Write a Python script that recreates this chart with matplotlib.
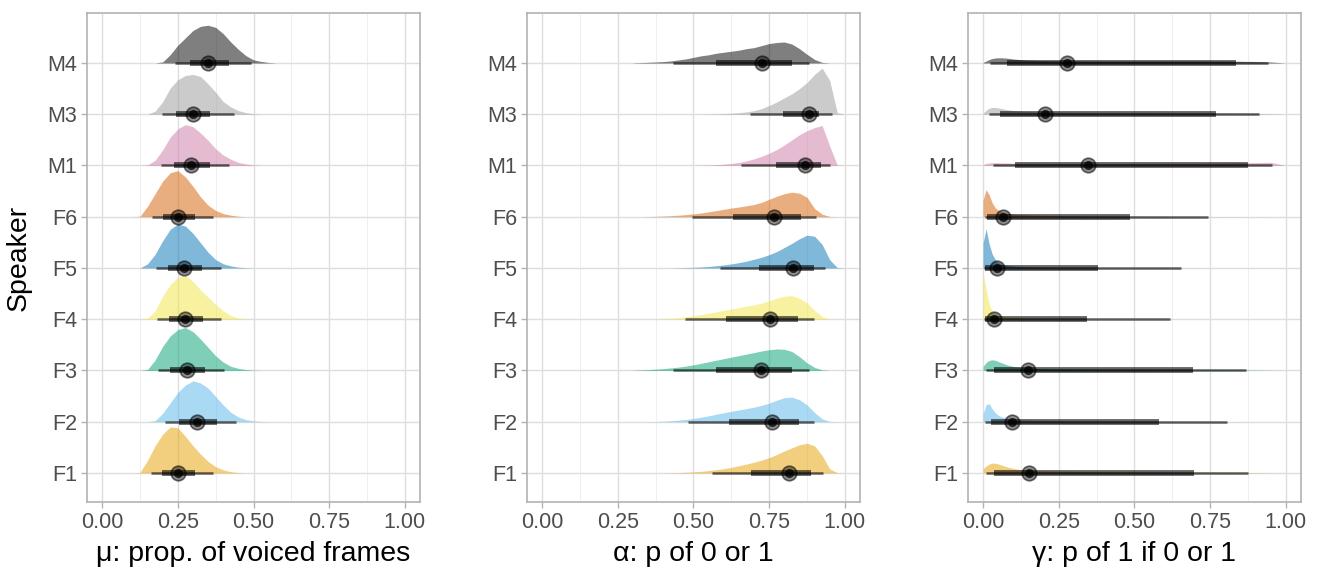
import matplotlib.pyplot as plt
import numpy as np
from matplotlib.ticker import MultipleLocator

plt.rcParams['font.family'] = ['Liberation Sans', 'DejaVu Sans']

speakers = ['F1', 'F2', 'F3', 'F4', 'F5', 'F6', 'M1', 'M3', 'M4']
colors = ['#E69F00', '#56B4E9', '#009E73', '#F0E442', '#0072B2',
          '#D55E00', '#CC79A7', '#999999', '#000000']

# posterior density estimates (relative height) on a fixed grid, per speaker
mu_grid = [0.100, 0.125, 0.150, 0.175, 0.200, 0.225, 0.250, 0.275, 0.300, 0.325, 0.350,
           0.375, 0.400, 0.425, 0.450, 0.475, 0.500, 0.525, 0.550, 0.575, 0.600]
mu_dens = {
    'F1': [0, 0.5, 12, 26, 37, 44, 43, 35, 26, 18, 11, 6, 3, 1.2, 0.4, 0, 0, 0, 0, 0, 0],
    'F2': [0, 0, 0, 1, 8, 18, 28, 35, 39, 37, 32, 24, 16, 9, 4.5, 2, 0.8, 0.3, 0, 0, 0],
    'F3': [0, 0, 1, 10, 23, 33, 39, 41, 37, 30, 22, 14, 8, 4, 2, 0.8, 0.3, 0, 0, 0, 0],
    'F4': [0, 0, 1, 8, 22, 33, 40, 42, 36, 28, 21, 14, 8, 3.5, 1.2, 0.4, 0, 0, 0, 0, 0],
    'F5': [0, 0, 4, 13, 26, 37, 42, 40, 33, 24, 15, 8, 4, 2, 0.7, 0.3, 0, 0, 0, 0, 0],
    'F6': [0, 0.5, 10, 22, 34, 42, 44, 38, 29, 19, 11, 6, 3, 1.5, 0.5, 0, 0, 0, 0, 0, 0],
    'M1': [0, 0, 0.5, 5, 15, 27, 35, 39, 37, 31, 24, 16, 10, 6, 3, 1.5, 0.5, 0, 0, 0, 0],
    'M3': [0, 0, 0, 3, 12, 25, 33, 37, 38, 36, 29, 21, 12, 7, 3.5, 1.5, 0.5, 0, 0, 0, 0],
    'M4': [0, 0, 0, 0, 1, 8, 17, 24, 31, 35, 36, 34, 28, 20, 13, 7, 3, 1.5, 0.5, 0, 0],
}
mu_med = [0.251, 0.312, 0.279, 0.275, 0.272, 0.252, 0.293, 0.301, 0.351]
mu_lo66 = [0.199, 0.255, 0.224, 0.222, 0.217, 0.202, 0.236, 0.244, 0.289]
mu_hi66 = [0.307, 0.378, 0.340, 0.334, 0.331, 0.307, 0.355, 0.356, 0.419]
mu_lo95 = [0.161, 0.209, 0.185, 0.180, 0.178, 0.164, 0.194, 0.199, 0.241]
mu_hi95 = [0.367, 0.441, 0.403, 0.393, 0.393, 0.367, 0.420, 0.435, 0.491]

alpha_grid = [0.300, 0.325, 0.350, 0.375, 0.400, 0.425, 0.450, 0.475, 0.500, 0.525,
              0.550, 0.575, 0.600, 0.625, 0.650, 0.675, 0.700, 0.725, 0.750, 0.775,
              0.800, 0.825, 0.850, 0.875, 0.900, 0.925, 0.950, 0.975, 1.000]
alpha_dens = {
    'F1': [0, 0, 0, 0, 0, 0.2, 0.4, 0.7, 1.1, 1.6, 2.3, 3.2, 4.2, 5.5, 7,
           8.7, 10.5, 12.5, 15, 18, 21.5, 24.5, 27.5, 29, 26.5, 17, 4, 0.3, 0],
    'F2': [0, 0, 0, 0.2, 0.5, 0.9, 1.5, 2.2, 3.2, 4.4, 5.8, 7.3, 8.8, 10.2, 11.5,
           12.8, 14.2, 16, 18.2, 21, 23.5, 24, 21.5, 16.5, 9, 2.8, 0.3, 0, 0],
    'F3': [0.2, 0.5, 0.8, 1.3, 1.8, 2.5, 3.3, 4.3, 5.5, 7, 8.5, 10, 11.5, 13, 14.5,
           16, 17.5, 19, 20.3, 21, 20.7, 18.5, 13.5, 7.5, 3, 0.6, 0, 0, 0],
    'F4': [0, 0, 0, 0.2, 0.5, 0.9, 1.5, 2.3, 3.3, 4.5, 5.8, 7.2, 8.6, 10, 11.3,
           12.7, 14, 15.8, 18, 20.5, 22.5, 23, 20.5, 16, 8.5, 2.5, 0.3, 0, 0],
    'F5': [0, 0, 0, 0, 0, 0, 0.2, 0.4, 0.7, 1, 1.5, 2.2, 3, 4, 5.2,
           6.7, 8.5, 10.5, 13, 16, 20, 24, 28.5, 32, 31, 23, 8, 0.5, 0],
    'F6': [0, 0, 0.2, 0.4, 0.7, 1.0, 1.5, 2.1, 2.8, 3.7, 4.8, 6, 7.3, 8.5, 9.5,
           10.7, 12, 14, 17, 20, 22.5, 24, 23, 19, 8, 2.5, 0.3, 0, 0],
    'M1': [0, 0, 0, 0, 0, 0, 0, 0, 0, 0.2, 0.4, 0.7, 1.2, 2, 3,
           4.5, 6.5, 9, 12, 15.5, 20, 25, 30, 34, 37, 39, 19, 0.5, 0],
    'M3': [0, 0, 0, 0, 0, 0, 0, 0, 0, 0, 0.2, 0.4, 0.6, 1, 1.5,
           2.3, 3.5, 5.5, 8.5, 12, 16, 20, 25, 31, 39, 45, 33, 1.5, 0],
    'M4': [0.2, 0.4, 0.7, 1.0, 1.4, 2, 3, 4, 5.5, 7, 8, 9.5, 10.5, 11.5, 12.5,
           14, 15, 17, 19, 20, 20.5, 18.5, 14, 8.5, 3.5, 0.6, 0, 0, 0],
}
alpha_med = [0.815, 0.760, 0.724, 0.753, 0.830, 0.767, 0.869, 0.883, 0.727]
alpha_lo66 = [0.691, 0.617, 0.573, 0.608, 0.716, 0.630, 0.773, 0.795, 0.575]
alpha_hi66 = [0.888, 0.850, 0.825, 0.844, 0.897, 0.855, 0.921, 0.916, 0.825]
alpha_lo95 = [0.562, 0.482, 0.432, 0.471, 0.589, 0.496, 0.658, 0.688, 0.432]
alpha_hi95 = [0.927, 0.899, 0.883, 0.897, 0.935, 0.905, 0.951, 0.957, 0.883]

gamma_grid = [0, 0.01, 0.02, 0.03, 0.04, 0.05, 0.06, 0.08, 0.10, 0.125, 0.15,
              0.2, 0.25, 0.3, 0.4, 0.5, 0.6, 0.7, 0.8, 0.9, 0.95, 1.0]
gamma_dens = {
    'F1': [4, 7, 9, 9.8, 9.8, 9, 8, 6, 4.5, 3.3, 2.7, 2, 1.7, 1.5, 1.2, 1, 0.9, 0.8, 0.6, 0.35, 0.1, 0],
    'F2': [8, 17, 18, 13, 9, 6.5, 5, 3.3, 2.4, 1.8, 1.5, 1.1, 0.9, 0.75, 0.55, 0.4, 0.3, 0.2, 0.1, 0.03, 0, 0],
    'F3': [4, 8, 10, 10.7, 10.2, 9, 7.8, 5.5, 4, 3, 2.5, 1.9, 1.6, 1.4, 1.1, 0.9, 0.8, 0.7, 0.6, 0.35, 0.1, 0],
    'F4': [46, 30, 15, 8, 5, 3.5, 2.7, 1.8, 1.3, 1, 0.8, 0.55, 0.4, 0.3, 0.2, 0.12, 0.07, 0.04, 0.01, 0, 0, 0],
    'F5': [25, 39, 24, 14, 8.5, 5.5, 4, 2.6, 1.9, 1.4, 1.1, 0.7, 0.5, 0.4, 0.25, 0.15, 0.08, 0.04, 0.01, 0, 0, 0],
    'F6': [17, 27, 22, 14, 9, 6.5, 5, 3.5, 2.7, 2.2, 1.8, 1.4, 1.1, 0.9, 0.6, 0.45, 0.3, 0.2, 0.12, 0.05, 0.02, 0],
    'M1': [0.5, 2, 2.6, 2.8, 2.8, 2.7, 2.6, 2.5, 2.4, 2.3, 2.2, 2.1, 2.1, 2.1, 2.1, 2.1, 2.2, 2.3, 2.5, 2.9, 3.2, 0],
    'M3': [1, 4, 6, 6.8, 6.8, 6.3, 5.7, 4.6, 3.7, 3, 2.6, 2.2, 2, 1.9, 1.7, 1.6, 1.5, 1.3, 1.1, 0.8, 0.4, 0],
    'M4': [0.5, 2, 3.5, 4.5, 5, 5.2, 5.2, 4.8, 4, 3.3, 2.8, 2.4, 2.2, 2.1, 2, 2, 2, 2, 1.9, 1.5, 1.0, 0],
}
gamma_med = [0.151, 0.097, 0.149, 0.036, 0.047, 0.067, 0.346, 0.204, 0.276]
gamma_lo66 = [0.036, 0.025, 0.036, 0.005, 0.005, 0.014, 0.105, 0.055, 0.078]
gamma_hi66 = [0.698, 0.582, 0.693, 0.343, 0.379, 0.484, 0.874, 0.769, 0.834]
gamma_lo95 = [0.011, 0.007, 0.009, 0.002, 0.002, 0.005, 0.033, 0.018, 0.023]
gamma_hi95 = [0.874, 0.807, 0.870, 0.616, 0.654, 0.742, 0.955, 0.911, 0.942]

panels = [
    ('\u03bc: prop. of voiced frames', mu_grid, mu_dens, mu_med, mu_lo66, mu_hi66, mu_lo95, mu_hi95),
    ('\u03b1: p of 0 or 1', alpha_grid, alpha_dens, alpha_med, alpha_lo66, alpha_hi66, alpha_lo95, alpha_hi95),
    ('\u03b3: p of 1 if 0 or 1', gamma_grid, gamma_dens, gamma_med, gamma_lo66, gamma_hi66, gamma_lo95, gamma_hi95),
]

fig = plt.figure(figsize=(13.2, 5.72), dpi=100)
lefts = [0.0659, 0.3992, 0.7333]

for k, (label, grid, dens, med, lo66, hi66, lo95, hi95) in enumerate(panels):
    ax = fig.add_axes([lefts[k], 0.1224, 0.2523, 0.8549])
    ax.set_axisbelow(True)
    dmax = max(max(v) for v in dens.values())

    # half-eye slabs
    for j, sp in enumerate(speakers):
        y = j + 1
        h = np.array(dens[sp]) / dmax * 0.9
        ax.fill_between(grid, y, y + h, color=colors[j], alpha=0.5, lw=0, zorder=2)

    # point + 66% / 95% intervals
    for j in range(len(speakers)):
        y = j + 1
        ax.plot([lo95[j], hi95[j]], [y, y], color='black', alpha=0.6, lw=1.8,
                solid_capstyle='butt', zorder=3)
        ax.plot([lo66[j], hi66[j]], [y, y], color='black', alpha=0.6, lw=4.2,
                solid_capstyle='butt', zorder=3)
        ax.plot(med[j], y, 'o', ms=10.5, mfc=(0, 0, 0, 0.45), mec=(0, 0, 0, 0.55),
                mew=1.2, zorder=4)
        ax.plot(med[j], y, 'o', ms=6.5, mfc=(0, 0, 0, 0.75), mec='none', zorder=5)

    ax.set_xlim(-0.05, 1.05)
    ax.set_ylim(0.434, 9.976)
    ax.set_xticks([0, 0.25, 0.5, 0.75, 1.0])
    ax.set_xticklabels(['0.00', '0.25', '0.50', '0.75', '1.00'])
    ax.xaxis.set_minor_locator(MultipleLocator(0.125))
    ax.set_yticks(range(1, len(speakers) + 1))
    ax.set_yticklabels(speakers)

    ax.grid(True, which='major', color='#dedede', lw=1.0)
    ax.grid(True, which='minor', axis='x', color='#ececec', lw=0.6)
    ax.tick_params(which='major', length=4, width=1.0, color='#b3b3b3',
                   labelsize=15.5, labelcolor='#4d4d4d', pad=3)
    ax.tick_params(which='minor', length=0)
    for s in ax.spines.values():
        s.set_color('#b3b3b3')
        s.set_linewidth(1.2)

    ax.set_xlabel(label, fontsize=20.5, color='black', labelpad=6)
    if k == 0:
        ax.set_ylabel('Speaker', fontsize=20.5, color='black', labelpad=11)

fig.savefig('out.png', dpi=100)
